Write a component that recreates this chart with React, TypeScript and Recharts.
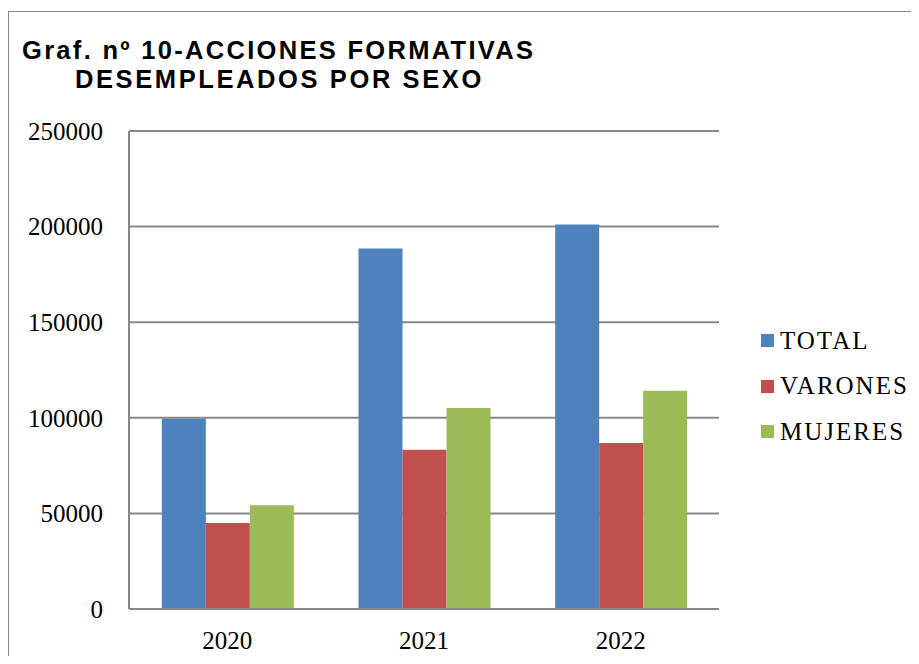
import React from "react";
import { BarChart, Bar, XAxis, YAxis, CartesianGrid } from "recharts";

const categories = ["2020", "2021", "2022"];
const totalValues = [99500, 188600, 201100];
const varonesValues = [45000, 83300, 86800];
const mujeresValues = [54200, 105100, 114200];
const yTicks = [0, 50000, 100000, 150000, 200000, 250000];
const seriesNames = ["TOTAL", "VARONES", "MUJERES"];
const seriesColors = ["#4F81BD", "#C0504D", "#9BBB59"];

const data = categories.map((c, i) => ({
  year: c,
  TOTAL: totalValues[i],
  VARONES: varonesValues[i],
  MUJERES: mujeresValues[i],
}));

const serif = "'Liberation Serif', 'Times New Roman', serif";
const sans = "'Liberation Sans', Arial, sans-serif";

const LegendBox = () => (
  <div style={{ position: "absolute", left: 761, top: 318, fontFamily: serif, fontSize: 25, letterSpacing: 2, color: "#000" }}>
    {seriesNames.map((n, i) => (
      <div key={n} style={{ display: "flex", alignItems: "center", height: 45.5, whiteSpace: "nowrap" }}>
        <span style={{ display: "inline-block", width: 13, height: 13, background: seriesColors[i], marginRight: 6 }} />
        <span>{n}</span>
      </div>
    ))}
  </div>
);

const titleStyle: React.CSSProperties = {
  position: "absolute",
  fontFamily: sans,
  fontWeight: "bold",
  fontSize: 25.5,
  lineHeight: "29px",
  color: "#000",
  whiteSpace: "nowrap",
};

export default function App() {
  return (
    <div style={{ position: "relative", margin: -8, width: 919, height: 664, background: "#fff", overflow: "hidden" }}>
      <div style={{ position: "absolute", left: 8, top: 11, width: 930, height: 700, border: "1px solid #888", boxSizing: "border-box" }} />
      <div style={{ ...titleStyle, left: 22, top: 36, letterSpacing: 2.3 }}>Graf. nº 10-ACCIONES FORMATIVAS</div>
      <div style={{ ...titleStyle, left: 75, top: 65, letterSpacing: 2.6 }}>DESEMPLEADOS POR SEXO</div>
      <div style={{ position: "absolute", left: 0, top: 0 }}>
        <BarChart
          width={919}
          height={664}
          data={data}
          margin={{ top: 131, right: 200, bottom: 0, left: 8 }}
          barGap={0}
          barCategoryGap="16.7%"
        >
          <CartesianGrid vertical={false} stroke="#888" strokeWidth={2} />
          <XAxis
            dataKey="year"
            height={55}
            axisLine={{ stroke: "#888", strokeWidth: 2 }}
            tickLine={false}
            tick={{ fontFamily: serif, fontSize: 25, fill: "#000" }}
            tickMargin={16}
          />
          <YAxis
            width={121}
            domain={[0, 250000]}
            ticks={yTicks}
            axisLine={{ stroke: "#888", strokeWidth: 2 }}
            tickLine={false}
            tick={{ fontFamily: serif, fontSize: 25, fill: "#000" }}
            tickMargin={20}
          />
          {seriesNames.map((n, i) => (
            <Bar key={n} dataKey={n} fill={seriesColors[i]} isAnimationActive={false} />
          ))}
        </BarChart>
      </div>
      <LegendBox />
    </div>
  );
}
